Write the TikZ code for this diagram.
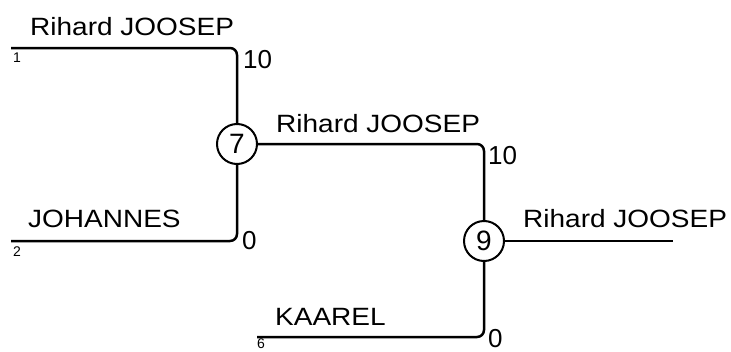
\documentclass[tikz,border=0pt]{standalone}
\usepackage{fontspec}
\setmainfont{Liberation Sans}
\newfontfamily\namefont[FakeStretch=1.12]{Liberation Sans}
\usetikzlibrary{positioning}

\begin{document}
\begin{tikzpicture}[
  x=1pt, y=-1pt,
  match/.style={circle, draw=black, line width=2pt, minimum size=40pt, inner sep=0pt,
                font=\fontsize{28}{28}\selectfont},
  bracket/.style={line width=2.5pt, rounded corners=7pt},
  player/.style={anchor=base west, inner sep=0pt, font=\namefont\fontsize{25}{25}\selectfont},
  score/.style={anchor=base west, inner sep=0pt, font=\fontsize{26}{26}\selectfont},
  seed/.style={anchor=north west, inner sep=0pt, font=\fontsize{14}{14}\selectfont}
]
\useasboundingbox (0,0) rectangle (731,351);
\node[match] (m7) at (237,144) {7};
\node[match] (m9) at (484,241) {9};
\coordinate (p1) at (11,48);
\coordinate (p2) at (11,241);
\coordinate (p6) at (257,337);
\coordinate (winner) at (673,241);

\node[player] (n1) at (30,35) {Rihard JOOSEP};
\node[seed] (s1) at (13,53) {1};
\node[score] (r1) at (243,68) {10};
\node[player] (n2) at (28,227) {JOHANNES};
\node[seed] (s2) at (13,247) {2};
\node[score] (r2) at (242,249) {0};
\node[player] (n7) at (276,132) {Rihard JOOSEP};
\node[score] (r7) at (488,164) {10};
\node[player] (n6) at (275,325) {KAAREL};
\node[seed] (s6) at (257,339) {6};
\node[score] (r6) at (488,347) {0};
\node[player] (n9) at (523,227) {Rihard JOOSEP};

\draw[bracket] (p1) -| (m7);
\draw[bracket] (p2) -| (m7);
\draw[bracket] (m7) -| (m9);
\draw[bracket] (p6) -| (m9);
\draw[bracket] (m9) -- (winner);
\end{tikzpicture}
\end{document}
